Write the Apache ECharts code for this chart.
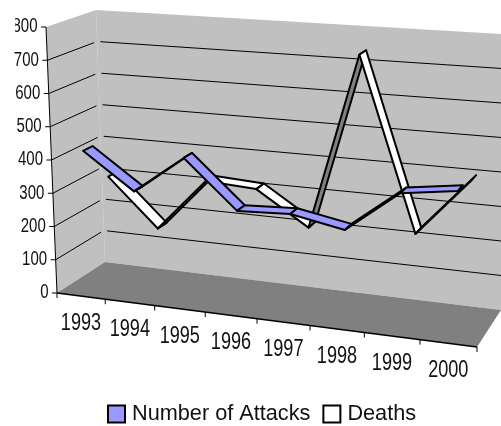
<!DOCTYPE html>
<html>
<head>
<meta charset="utf-8">
<style>
html,body{margin:0;padding:0;background:#fff}
#chart{width:501px;height:426px}
</style>
<script src="https://cdn.jsdelivr.net/npm/echarts@6/dist/echarts.min.js"></script>
</head>
<body>
<div id="chart"></div>
<script>
const years = ['1993','1994','1995','1996','1997','1998','1999','2000']
const attacks = [424,317,431,291,298,269,389,411]
const deaths = [307,163,323,314,215,738,230,398]
const yTicks = [0,100,200,300,400,500,600,700,800]

// box corners in the picture: f/b = front/back, 0/1 = bottom/top, L/R
const fontName = '"Liberation Sans"'
const c = {
  f0L:[57,293], f1L:[46,27], b0L:[105,262], b1L:[96,10],
  f0R:[477,347], f1R:[476,56], b0R:[501,310], b1R:[502,34]
}
const lerp = (a,b,t)=>[a[0]+(b[0]-a[0])*t, a[1]+(b[1]-a[1])*t]
// the x axis gets wider to the right
const warp = s=>s/(s+1.1*(1-s))
const project = (u,v,d)=>{
  const bottom = lerp(lerp(c.f0L,c.f0R,u),lerp(c.b0L,c.b0R,u),d)
  const top = lerp(lerp(c.f1L,c.f1R,u),lerp(c.b1L,c.b1R,u),d)
  return lerp(bottom,top,v)
}
// axis scale -> unit box
const unit = (params,api,i,val)=>{
  const p = api.coord([i,val]), r = params.coordSys
  return [warp((p[0]-r.x)/r.width),(r.y+r.height-p[1])/r.height]
}
const poly = (points,fill,extra)=>({type:'polygon',shape:{points},style:Object.assign({fill},extra||{})})
const seg = (a,b,w)=>({type:'line',shape:{x1:a[0],y1:a[1],x2:b[0],y2:b[1]},style:{stroke:'#000',lineWidth:w||1,fill:null}})
// no narrow font here, so squeeze the text
const label = (text,x,y,size,align)=>({type:'text',x,y,scaleX:0.77,style:{text,x:0,y:0,fill:'#111',font:size+'px '+fontName,align:align||'center',verticalAlign:'middle'}})

function renderFrame(params,api){
  if(params.dataIndex>0) return
  const kids = [
    poly([c.f0L,c.f1L,c.b1L,c.b0L],'#C0C0C0'),
    poly([c.b0L,c.b1L,c.b1R,c.b0R],'#C0C0C0'),
    poly([c.f0L,c.b0L,c.b0R,c.f0R],'#808080')
  ]
  yTicks.forEach(t=>{
    const v = unit(params,api,0,t)[1]
    const a = project(0,v,0)
    if(t>0 && t<800){
      kids.push(seg(a,project(0,v,0.94)))
      kids.push(seg(project(0.008,v,1),project(1,v,1)))
    }
    kids.push(seg(a,[a[0]-5,a[1]]))
    const txt = label(String(t),a[0]-8.5,a[1],19.5,'right')
    // top label is cut off on its left side in the original
    if(t==800) txt.clipPath = {type:'rect',shape:{x:-29,y:-15,width:36,height:30}}
    kids.push(txt)
  })
  kids.push(seg(c.f0L,c.f1L))
  kids.push(seg(c.f0L,c.f0R,1.5))
  for(let t=0;t<=years.length;t++){
    const a = project(warp(t/years.length),0,0)
    kids.push(seg(a,[a[0],a[1]+5]))
  }
  years.forEach((y,i)=>{
    const u = unit(params,api,i,0)
    const a = project(u[0],0,0)
    kids.push(label(y,a[0],a[1]+27.5,23.5))
  })
  return {type:'group',children:kids}
}

// one flat strip per line segment, d0..d1 is its place in the depth
function ribbon(values,d0,d1,topColor,underColor){
  return (params,api)=>{
    const i = params.dataIndex
    if(i>=values.length-1) return
    const p = unit(params,api,i,values[i]), q = unit(params,api,i+1,values[i+1])
    // lines sit a little further right than the floor ticks
    const u0 = p[0]*1.016, u1 = q[0]*1.016
    const pts = [project(u0,p[1],d0),project(u0,p[1],d1),project(u1,q[1],d1),project(u1,q[1],d0)]
    let area = 0
    pts.forEach((a,k)=>{const b=pts[(k+1)%4];area+=a[0]*b[1]-b[0]*a[1]})
    return poly(pts,area>0?topColor:underColor,{stroke:'#000',lineWidth:2,lineJoin:'round'})
  }
}

const chart = echarts.init(document.getElementById('chart'))
chart.setOption({
  animation:false,
  backgroundColor:'#fff',
  grid:{left:0,top:0,width:400,height:400},
  xAxis:{type:'category',data:years,show:false},
  yAxis:{type:'value',min:0,max:800,interval:100,show:false},
  legend:{
    data:['Number of Attacks','Deaths'],
    left:102,top:398,
    icon:'rect',itemWidth:17,itemHeight:17,itemGap:12,
    itemStyle:{borderColor:'#000',borderWidth:2},
    textStyle:{fontFamily:'Liberation Sans',fontSize:21.7,color:'#111',padding:[0,0,0,2]}
  },
  series:[
    {type:'custom',name:'frame',clip:false,renderItem:renderFrame,data:years.map((y,i)=>[i,0]),silent:true},
    {type:'custom',name:'Deaths',clip:false,itemStyle:{color:'#FFFFFF'},
     renderItem:ribbon(deaths,0.65,0.85,'#FFFFFF','#808080'),data:deaths.map((v,i)=>[i,v])},
    {type:'custom',name:'Number of Attacks',clip:false,itemStyle:{color:'#9999FF'},
     renderItem:ribbon(attacks,0.15,0.35,'#9999FF','#4C4C80'),data:attacks.map((v,i)=>[i,v])}
  ]
})
</script>
</body>
</html>
